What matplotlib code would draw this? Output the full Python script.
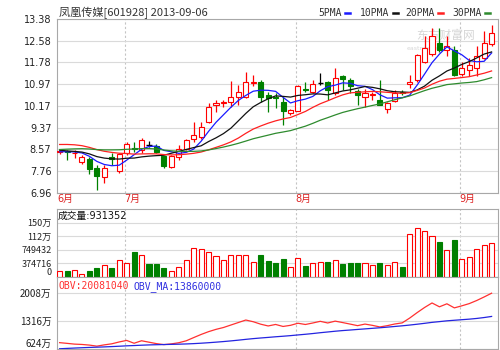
import numpy as np
import pandas as pd
import matplotlib
matplotlib.use('Agg')
import matplotlib.pyplot as plt
from matplotlib.transforms import blended_transform_factory
from matplotlib.lines import Line2D

plt.rcParams['font.family'] = ['DejaVu Sans', 'Noto Sans CJK SC']

# ---------------- data ----------------
title = '凤凰传媒[601928] 2013-09-06'
dates = pd.bdate_range('2013-06-18', '2013-09-06')

open_ = [8.48, 8.52, 8.42, 8.12, 8.23, 7.88, 7.55, 8.30, 7.76, 8.42,
         8.63, 8.55, 8.73, 8.69, 8.32, 7.93, 8.30, 8.60, 8.97, 9.04,
         9.59, 10.21, 10.28, 10.30, 10.49, 10.52, 11.02, 11.07, 10.58, 10.51,
         10.31, 9.90, 10.00, 10.78, 10.70, 11.01, 11.04, 10.64, 11.29, 11.13,
         10.74, 10.52, 10.56, 10.39, 10.05, 10.36, 10.70, 11.00, 11.13, 11.81,
         12.09, 12.49, 12.25, 12.25, 11.34, 11.50, 11.57, 11.95, 12.45]
high = [8.60, 8.55, 8.56, 8.38, 8.30, 7.99, 7.99, 8.42, 8.45, 8.86,
        8.85, 8.98, 8.88, 8.76, 8.34, 8.36, 8.72, 8.96, 9.59, 9.59,
        10.29, 10.39, 10.39, 11.11, 10.95, 11.44, 11.32, 11.13, 10.67, 10.64,
        10.52, 10.05, 10.95, 11.04, 11.13, 11.38, 11.11, 11.57, 11.32, 11.20,
        10.79, 10.79, 10.70, 11.13, 10.33, 10.76, 10.76, 11.32, 12.09, 12.74,
        13.05, 13.05, 12.74, 12.37, 11.81, 11.94, 12.37, 12.92, 13.17]
low = [8.40, 8.18, 8.25, 8.03, 7.66, 7.08, 7.33, 8.00, 7.70, 8.38,
       8.48, 8.42, 8.66, 8.45, 7.90, 7.88, 8.17, 8.55, 8.85, 8.97,
       9.53, 9.96, 10.15, 10.15, 10.21, 10.46, 10.89, 10.33, 9.96, 10.08,
       9.48, 9.85, 9.97, 10.70, 10.64, 10.95, 10.39, 10.58, 10.76, 10.64,
       10.21, 10.15, 10.39, 10.21, 9.93, 10.31, 10.58, 10.85, 11.07, 11.75,
       12.00, 12.18, 12.00, 11.26, 11.26, 11.26, 11.26, 11.90, 12.37]
close = [8.52, 8.47, 8.45, 8.30, 7.83, 7.58, 7.90, 8.22, 8.40, 8.76,
         8.58, 8.90, 8.73, 8.49, 7.96, 8.33, 8.60, 8.91, 9.10, 9.41,
         10.15, 10.27, 10.30, 10.49, 10.67, 11.07, 11.05, 10.49, 10.46, 10.48,
         9.97, 10.01, 10.91, 10.75, 10.98, 11.01, 10.76, 11.20, 11.17, 10.89,
         10.58, 10.64, 10.60, 10.21, 10.27, 10.64, 10.66, 11.07, 12.06, 12.31,
         12.74, 12.25, 12.40, 11.32, 11.59, 11.69, 12.00, 12.50, 12.85]
volume = [169000, 178000, 187000, 84000, 159000, 262000, 318000, 262000, 459000, 384000,
          703000, 618000, 356000, 356000, 244000, 178000, 290000, 478000, 796000, 778000,
          693000, 571000, 459000, 618000, 618000, 618000, 422000, 609000, 440000, 375000,
          497000, 281000, 515000, 309000, 375000, 412000, 412000, 459000, 356000, 375000,
          393000, 393000, 318000, 393000, 318000, 412000, 281000, 1190000, 1349000, 1274000,
          1124000, 955000, 749000, 1012000, 506000, 553000, 768000, 881000, 931352]
# closes / OBV before the visible window (only feed the moving averages)
prior_close = [8.05, 8.12, 8.10, 8.18, 8.25, 8.20, 8.22, 8.28, 8.24, 8.26,
               8.45, 8.70, 8.95, 9.10, 9.20, 9.15, 9.05, 9.00, 8.98, 9.02,
               8.75, 8.62, 8.55, 8.50, 8.58, 8.45, 8.50, 8.48, 8.45]
prior_obv = [4800000, 4880000, 4950000, 5020000, 5100000, 5200000, 5150000, 5300000, 5400000, 5550000,
             5700000, 5850000, 6000000, 6100000, 6250000, 6400000, 6500000, 6650000, 6750000, 6900000,
             7000000, 7100000, 7220000, 7300000, 7450000, 7550000, 7620000, 7680000, 7650000]
obv_last = 20081040
obv_ma_last = 13860000

ma_periods = [5, 10, 20, 30]
ma_labels = ['5PMA', '10PMA', '20PMA', '30PMA']
ma_colors = ['#1a1aff', '#111111', '#ff2020', '#2e8b2e']

price_ticks = [6.96, 7.76, 8.57, 9.37, 10.17, 10.97, 11.78, 12.58, 13.38]
price_tick_labels = ['6.96', '7.76', '8.57', '9.37', '10.17', '10.97', '11.78', '12.58', '13.38']
vol_ticks = [0, 374716, 749432, 1124148, 1498864]
vol_tick_labels = ['0', '374716', '749432', '112万', '150万']
obv_ticks = [6240000, 13160000, 20080000]
obv_tick_labels = ['624万', '1316万', '2008万']

# ---------------- derived ----------------
n = len(close)
x = np.arange(n)
o = np.array(open_); h = np.array(high); l = np.array(low); c = np.array(close)
v = np.array(volume, dtype=float)

full_close = pd.Series(prior_close + close)
mas = [full_close.rolling(p).mean().to_numpy()[len(prior_close):] for p in ma_periods]

prev_close = np.array(prior_close[-1:] + close[:-1])
signed = np.sign(c - prev_close) * v
cum = np.cumsum(signed)
obv = cum - cum[-1] + obv_last
obv_full = pd.Series(list(prior_obv) + list(obv))
obv_ma = obv_full.rolling(30).mean().to_numpy()[len(prior_obv):]

up = c > o
down = c < o
flat = ~up & ~down
vol_up = np.where(flat, c >= prev_close, up)

RED = '#ff0000'
GREEN = '#008000'
GRID = '#dadada'
SPINE = '#a8a8a8'
VDASH = '#c4c4c4'

W, H = 500, 350
fig = plt.figure(figsize=(5, 3.5), dpi=100)
fig.patch.set_facecolor('white')


def rect(left, top, right, bottom):
    return [left / W, 1 - bottom / H, (right - left) / W, (bottom - top) / H]


ax_p = fig.add_axes(rect(57, 19, 498, 193))
ax_v = fig.add_axes(rect(57, 209, 498, 277))
ax_o = fig.add_axes(rect(57, 277, 498, 349))

xlim = (-0.35, n - 1 + 0.86)
month_idx = [0] + [i for i in range(1, n) if dates[i].month != dates[i - 1].month]
month_lab = [f'{dates[i].month}月' for i in month_idx]

for ax in (ax_p, ax_v, ax_o):
    ax.set_xlim(*xlim)
    ax.set_xticks([])
    for s in ax.spines.values():
        s.set_color(SPINE)
        s.set_linewidth(0.8)
    ax.tick_params(axis='y', length=0, pad=4, labelsize=7, labelcolor='#222222')
    ax.yaxis.grid(True, color=GRID, lw=0.8)
    ax.set_axisbelow(True)
    for i in month_idx[1:]:
        ax.axvline(i - 0.2, color=VDASH, lw=0.8, ls=(0, (2, 2)), zorder=0.5)

# ---------------- price panel ----------------
ax_p.set_ylim(price_ticks[0], price_ticks[-1])
ax_p.set_yticks(price_ticks)
ax_p.set_yticklabels(price_tick_labels)

bw = 0.68
cols = np.where(up, RED, np.where(down, GREEN, '#000000'))
body_lo = np.minimum(o, c)
body_hi = np.maximum(o, c)
ax_p.vlines(x, body_hi, h, colors=cols, lw=0.9, zorder=2)
ax_p.vlines(x, l, body_lo, colors=cols, lw=0.9, zorder=2)
ax_p.bar(x[up], (c - o)[up], bottom=o[up], width=bw, facecolor='white',
         edgecolor=RED, linewidth=0.8, zorder=3)
ax_p.bar(x[down], (o - c)[down], bottom=c[down], width=bw, facecolor=GREEN,
         edgecolor=GREEN, linewidth=0.8, zorder=3)
ax_p.hlines(o[flat], x[flat] - bw / 2, x[flat] + bw / 2, colors='#000000', lw=1.0, zorder=3)

for ma, col in zip(mas, ma_colors):
    ax_p.plot(x, ma, color=col, lw=0.9, zorder=4)

# watermark
ax_p.text(0.88, 0.905, '东方财富网', transform=ax_p.transAxes, fontsize=8.5,
          family=['Noto Sans CJK SC'], color='#d6d6d6', ha='center', va='center', zorder=0.6)
ax_p.text(0.85, 0.83, 'eastmoney.com', transform=ax_p.transAxes, fontsize=4.5,
          color='#d6d6d6', ha='center', va='center', zorder=0.6)

# month labels
tr = blended_transform_factory(ax_p.transData, fig.transFigure)
for i, lab in zip(month_idx, month_lab):
    fig.text(i - 0.3, 1 - 199 / H, lab, transform=tr, color='#dd2222', fontsize=7,
             family=['DejaVu Sans', 'Noto Sans CJK SC'], ha='left', va='center')

# title
fig.text(59 / W, 1 - 12.5 / H, title, fontsize=8, color='#333333',
         family=['Noto Sans CJK SC', 'DejaVu Sans'], ha='left', va='center')

# MA legend
leg_x = [318, 360, 405, 452]
for lx, lab, col in zip(leg_x, ma_labels, ma_colors):
    t = fig.text(lx / W, 1 - 12.5 / H, lab, fontsize=7, color='#333333',
                 family='DejaVu Sans Mono', ha='left', va='center')
    dx0 = lx + len(lab) * 5.85 + 3.5
    fig.add_artist(Line2D([dx0 / W, (dx0 + 5.5) / W], [1 - 13 / H, 1 - 13 / H],
                          color=col, lw=1.8, transform=fig.transFigure))

# ---------------- volume panel ----------------
ax_v.set_ylim(0, 1.88e6)
ax_v.set_yticks(vol_ticks)
ax_v.set_yticklabels(vol_tick_labels)
ax_v.bar(x[vol_up], v[vol_up], width=bw, facecolor='white', edgecolor=RED, linewidth=0.8, zorder=3)
ax_v.bar(x[~vol_up], v[~vol_up], width=bw, facecolor=GREEN, edgecolor=GREEN, linewidth=0.8, zorder=3)
ax_v.text(0.002, 0.9, f'成交量:{volume[-1]}', transform=ax_v.transAxes, fontsize=7,
          family=['DejaVu Sans', 'Noto Sans CJK SC'], color='#111111', ha='left', va='center')

# ---------------- OBV panel ----------------
ax_o.set_ylim(6.24e6, 2.41e7)
ax_o.set_yticks(obv_ticks)
ax_o.set_yticklabels(obv_tick_labels)
ax_o.plot(x, obv, color='#ff3030', lw=0.9, zorder=3)
ax_o.plot(x, obv_ma, color='#2424e0', lw=0.9, zorder=3)
ax_o.text(0.004, 0.87, f'OBV:{obv_last}', transform=ax_o.transAxes, fontsize=7,
          family='DejaVu Sans Mono', color='#ff3030', ha='left', va='center')
ax_o.text((133 - 57) / 441, 0.87, f'OBV_MA:{obv_ma_last}', transform=ax_o.transAxes, fontsize=7,
          family='DejaVu Sans Mono', color='#3030e0', ha='left', va='center')

narrow = ['Liberation Sans Narrow', 'Noto Sans CJK SC']
for ax, sz in ((ax_v, 6.5), (ax_o, 7)):
    labs = ax.get_yticklabels()
    for lab in labs:
        lab.set_fontfamily(narrow)
        lab.set_fontsize(sz)
    labs[0].set_verticalalignment('bottom')

fig.savefig('out.png', dpi=100, facecolor='white')
